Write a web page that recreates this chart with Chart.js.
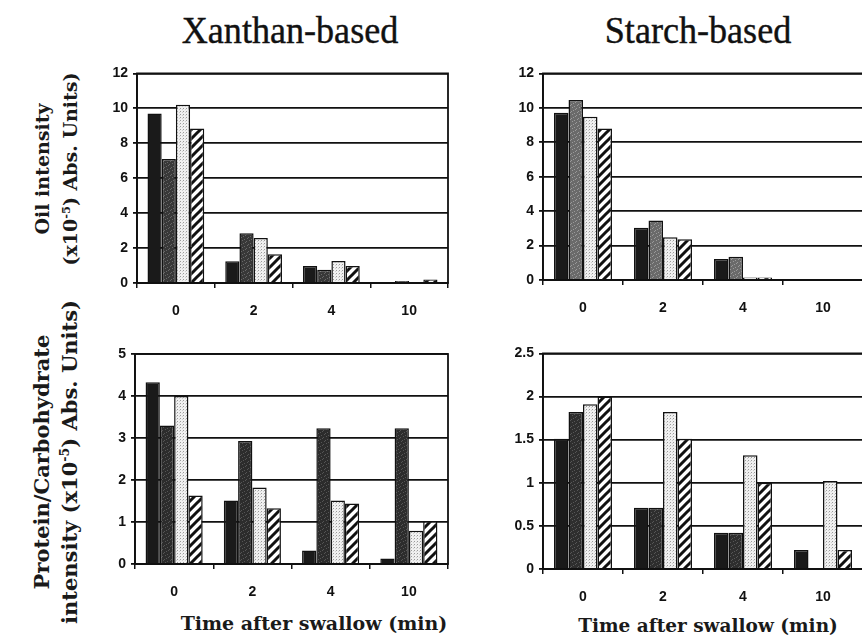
<!DOCTYPE html>
<html>
<head>
<meta charset="utf-8">
<script src="https://cdn.jsdelivr.net/npm/chart.js@4/dist/chart.umd.min.js"></script>
<style>
  html, body { margin:0; padding:0; background:#fff; width:862px; height:642px; overflow:hidden; }
  .panel { position:absolute; }
  .title { position:absolute; font-family:'Liberation Serif','DejaVu Serif',serif; font-size:38px; color:#111; -webkit-text-stroke:0.4px #111; transform:translate(-50%,-50%) scaleX(0.95); white-space:nowrap; }
  .ytitle { position:absolute; font-family:'DejaVu Serif',serif; font-weight:bold; font-size:19px; color:#1a1a1a; line-height:28px; text-align:center; white-space:nowrap; transform:translate(-50%,-50%) rotate(-90deg); }
  .xtitle { position:absolute; font-family:'DejaVu Serif',serif; font-weight:bold; font-size:19px; color:#1a1a1a; transform:translate(-50%,-50%); white-space:nowrap; }
  sup { font-size:0.6em; line-height:0; }
</style>
</head>
<body>
<div class="title" style="left:290px;top:30px;">Xanthan-based</div>
<div class="title" style="left:698px;top:30px;">Starch-based</div>
<div class="ytitle" style="left:56px;top:169px;">Oil intensity<br>(x10<sup>-5</sup>) Abs. Units)</div>
<div class="ytitle" style="left:56px;top:462px;font-size:21px;">Protein/Carbohydrate<br>intensity (x10<sup>-5</sup>) Abs. Units)</div>
<div class="xtitle" style="left:314px;top:623px;">Time after swallow (min)</div>
<div class="xtitle" style="left:708px;top:625px;font-size:18.5px;">Time after swallow (min)</div>

<div class="panel" style="left:90px;top:60px;width:370px;height:260px;"><canvas id="c1"></canvas></div>
<div class="panel" style="left:490px;top:60px;width:400px;height:260px;"><canvas id="c2"></canvas></div>
<div class="panel" style="left:90px;top:340px;width:370px;height:270px;"><canvas id="c3"></canvas></div>
<div class="panel" style="left:490px;top:340px;width:400px;height:270px;"><canvas id="c4"></canvas></div>

<script>
// ---------- data ----------
const categories = ['0', '2', '4', '10'];

const xanthanOilBlack   = [9.7, 1.24, 0.97, 0];
const xanthanOilDark    = [7.1, 2.85, 0.76, 0.12];
const xanthanOilDotted  = [10.2, 2.58, 1.26, 0];
const xanthanOilHatched = [8.85, 1.64, 0.97, 0.2];

const starchOilBlack   = [9.72, 3.04, 1.22, 0.05];
const starchOilDark    = [10.45, 3.45, 1.35, 0.05];
const starchOilDotted  = [9.48, 2.48, 0.15, 0];
const starchOilHatched = [8.8, 2.36, 0.15, 0];

const xanthanProtBlack   = [4.33, 1.51, 0.32, 0.13];
const xanthanProtDark    = [3.3, 2.93, 3.23, 3.23];
const xanthanProtDotted  = [4.0, 1.82, 1.51, 0.79];
const xanthanProtHatched = [1.63, 1.33, 1.44, 1.02];

const starchProtBlack   = [1.51, 0.71, 0.42, 0.22];
const starchProtDark    = [1.82, 0.71, 0.42, 0];
const starchProtDotted  = [1.91, 1.82, 1.32, 1.02];
const starchProtHatched = [2.0, 1.51, 1.0, 0.22];

const oilTicks = [0, 2, 4, 6, 8, 10, 12];
const xanthanProtTicks = [0, 1, 2, 3, 4, 5];
const starchProtTicks = [0, 0.5, 1, 1.5, 2, 2.5];

// ---------- patterns ----------
function speckled(base, light) {
  const c = document.createElement('canvas'); c.width = 7; c.height = 7;
  const g = c.getContext('2d');
  g.fillStyle = base; g.fillRect(0, 0, 7, 7);
  g.fillStyle = light;
  [[1,0],[4,2],[0,4],[5,5],[2,6],[6,1],[3,3]].forEach(p => g.fillRect(p[0], p[1], 1, 1));
  return g.createPattern(c, 'repeat');
}
function dotted() {
  const c = document.createElement('canvas'); c.width = 3; c.height = 3;
  const g = c.getContext('2d');
  g.fillStyle = '#f0f0f0'; g.fillRect(0, 0, 3, 3);
  g.fillStyle = '#9a9a9a'; g.fillRect(0, 0, 1, 1);
  g.fillStyle = '#cfcfcf'; g.fillRect(2, 1, 1, 1);
  return g.createPattern(c, 'repeat');
}
function hatched() {
  const s = 9;
  const c = document.createElement('canvas'); c.width = s; c.height = s;
  const g = c.getContext('2d');
  g.fillStyle = '#ffffff'; g.fillRect(0, 0, s, s);
  g.strokeStyle = '#111'; g.lineWidth = 3;
  g.beginPath();
  g.moveTo(0, s); g.lineTo(s, 0);
  g.moveTo(-s/2, s/2); g.lineTo(s/2, -s/2);
  g.moveTo(s/2, s*1.5); g.lineTo(s*1.5, s/2);
  g.stroke();
  return g.createPattern(c, 'repeat');
}

const framePlugin = {
  id: 'frame',
  afterDraw(chart) {
    const a = chart.chartArea, ctx = chart.ctx;
    ctx.save();
    ctx.strokeStyle = '#111'; ctx.lineWidth = 1.8;
    ctx.strokeRect(a.left, a.top, a.right - a.left, a.bottom - a.top);
    ctx.restore();
  }
};

function makeChart(id, series, darkBase, darkLight, ticks, yW, xH, padTop, padRight, catPct) {
  const ds = [
    { label: 'Series 1', data: series[0], backgroundColor: '#1a1a1a' },
    { label: 'Series 2', data: series[1], backgroundColor: speckled(darkBase, darkLight) },
    { label: 'Series 3', data: series[2], backgroundColor: dotted() },
    { label: 'Series 4', data: series[3], backgroundColor: hatched() }
  ].map(d => Object.assign(d, {
    borderColor: '#111', borderWidth: 1.5, borderSkipped: 'start',
    barPercentage: 1.0, categoryPercentage: catPct
  }));
  return new Chart(document.getElementById(id), {
    type: 'bar',
    data: { labels: categories, datasets: ds },
    options: {
      responsive: true, maintainAspectRatio: false, animation: false,
      layout: { padding: { top: padTop, right: padRight, left: 0, bottom: 0 } },
      plugins: { legend: { display: false }, tooltip: { enabled: false } },
      scales: {
        x: {
          grid: { display: true, drawOnChartArea: false, offset: true, tickLength: 5, color: '#111', lineWidth: 1.5 },
          border: { display: true, color: '#111', width: 1.8 },
          ticks: { color: '#111', font: { family: 'Liberation Sans', weight: 'bold', size: 14 }, padding: 15 },
          afterFit: s => { s.height = xH; }
        },
        y: {
          min: ticks[0], max: ticks[ticks.length - 1],
          afterBuildTicks: s => { s.ticks = ticks.map(v => ({ value: v })); },
          grid: { color: '#111', lineWidth: 1.8, tickLength: 4 },
          border: { display: true, color: '#111', width: 1.8 },
          ticks: { color: '#111', font: { family: 'Liberation Sans', weight: 'bold', size: 14 }, padding: 5,
                   callback: v => String(v) },
          afterFit: s => { s.width = yW; }
        }
      }
    },
    plugins: [framePlugin]
  });
}

makeChart('c1', [xanthanOilBlack, xanthanOilDark, xanthanOilDotted, xanthanOilHatched], '#383838', '#686868', oilTicks, 47, 37, 13, 12, 0.73);
makeChart('c2', [starchOilBlack, starchOilDark, starchOilDotted, starchOilHatched], '#6a6a6a', '#9a9a9a', oilTicks, 53, 40, 13, 27, 0.725);
makeChart('c3', [xanthanProtBlack, xanthanProtDark, xanthanProtDotted, xanthanProtHatched], '#2c2c2c', '#555555', xanthanProtTicks, 45, 46, 14, 12, 0.73);
makeChart('c4', [starchProtBlack, starchProtDark, starchProtDotted, starchProtHatched], '#2e2e2e', '#575757', starchProtTicks, 53, 41, 13, 27, 0.725);
</script>
</body>
</html>
